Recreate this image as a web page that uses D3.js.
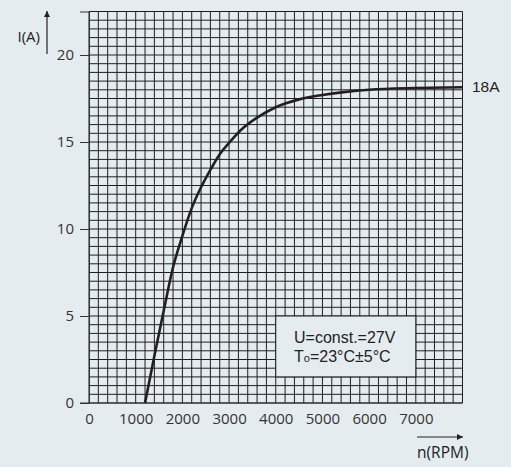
<!DOCTYPE html>
<html><head><meta charset="utf-8">
<script src="https://cdn.jsdelivr.net/npm/d3@7"></script>
<style>
html,body{margin:0;padding:0;background:#e5ecef;}
svg{display:block;}
</style></head>
<body>
<svg id="c" width="511" height="467"></svg>
<script>
const rpm = [1200, 1400, 1600, 1800, 2000, 2200, 2400, 2600, 2800, 3000, 3300, 3600, 4000, 4500, 5000, 5500, 6000, 7000, 8000];
const current = [0, 2.7, 5.3, 7.8, 9.6, 11.2, 12.4, 13.4, 14.3, 14.95, 15.8, 16.4, 17.0, 17.45, 17.7, 17.88, 18.0, 18.1, 18.15];
const xTicks = [0, 1000, 2000, 3000, 4000, 5000, 6000, 7000];
const yTicks = [0, 5, 10, 15, 20];
const noteLines = ["U=const.=27V", "=23°C±5°C"];
const endLabel = "18A";

const svg = d3.select("#c");
const bg = "#e5ecef";
const font = "'Open Sans', sans-serif";
const noteFont = "'Liberation Sans', Arial, sans-serif";
const x = d3.scaleLinear().domain([0, 8000]).range([89, 462.5]);
const y = d3.scaleLinear().domain([0, 22.5]).range([403, 11.5]);

const grid = svg.append("g").attr("stroke", "#1e1e1e").attr("stroke-width", 1);
grid.selectAll("line.v").data(d3.range(0, 8001, 200)).join("line")
  .attr("x1", d => x(d)).attr("x2", d => x(d)).attr("y1", y(0)).attr("y2", y(22.5));
grid.selectAll("line.h").data(d3.range(0, 22.51, 0.5)).join("line")
  .attr("y1", d => y(d)).attr("y2", d => y(d)).attr("x1", x(0)).attr("x2", x(8000));

// note box
svg.append("rect").attr("x", x(4000)).attr("y", y(5)).attr("width", x(7000) - x(4000)).attr("height", y(1.5) - y(5))
  .attr("fill", bg).attr("stroke", "#1e1e1e").attr("stroke-width", 1);
svg.append("text").attr("x", 294).attr("y", 343).attr("font-family", noteFont).attr("font-size", 16).attr("fill", "#222")
  .text(noteLines[0]);
const t2 = svg.append("text").attr("x", 294).attr("y", 362).attr("font-family", noteFont).attr("font-size", 16).attr("fill", "#222");
t2.append("tspan").text("T");
t2.append("tspan").attr("font-size", 11).text("o");
t2.append("tspan").attr("font-size", 16).text(noteLines[1]);

// y axis
const yAxis = d3.axisLeft(y).tickValues(yTicks).tickSize(9).tickPadding(6).tickFormat(d3.format("d"));
const ya = svg.append("g").attr("transform", `translate(${x(0)},0)`).call(yAxis);
ya.select(".domain").attr("stroke", "#333");
ya.selectAll(".tick line").attr("stroke", "#333");
ya.selectAll(".tick text").attr("font-family", font).attr("font-size", 15).attr("fill", "#333");

// x axis
const xa = d3.axisBottom(x).tickValues(xTicks).tickSize(0).tickPadding(10).tickFormat(d3.format("d"));
const xg = svg.append("g").attr("transform", `translate(0,${y(0)})`).call(xa);
xg.select(".domain").remove();
xg.selectAll(".tick text").attr("font-family", font).attr("font-size", 15).attr("fill", "#333");
svg.append("line").attr("x1", 80).attr("x2", x(8000)).attr("y1", y(0)).attr("y2", y(0)).attr("stroke", "#333").attr("stroke-width", 1.2);

// curve
const line = d3.line().x((d, i) => x(rpm[i])).y(d => y(d)).curve(d3.curveMonotoneX);
svg.append("path").datum(current).attr("d", line).attr("fill", "none").attr("stroke", "#231f20").attr("stroke-width", 2.6);

svg.append("text").attr("x", 472).attr("y", 92).attr("font-family", "'Liberation Sans', Arial, sans-serif")
  .attr("font-size", 15.5).attr("fill", "#222").text(endLabel);

// axis arrows
const defs = svg.append("defs");
defs.append("marker").attr("id", "ah").attr("viewBox", "0 0 10 10").attr("refX", 10).attr("refY", 5)
  .attr("markerWidth", 8).attr("markerHeight", 6).attr("markerUnits", "userSpaceOnUse").attr("orient", "auto")
  .append("path").attr("d", "M0,0 L10,5 L0,10 Z").attr("fill", "#222");
svg.append("line").attr("x1", 47).attr("x2", 47).attr("y1", 54).attr("y2", 11).attr("stroke", "#222").attr("stroke-width", 1.2).attr("marker-end", "url(#ah)");
svg.append("text").attr("x", 40).attr("y", 42).attr("text-anchor", "end").attr("font-family", font)
  .attr("font-size", 15).attr("fill", "#222").text("I(A)");
svg.append("line").attr("x1", 417).attr("x2", 463).attr("y1", 437).attr("y2", 437).attr("stroke", "#222").attr("stroke-width", 1.2).attr("marker-end", "url(#ah)");
svg.append("text").attr("x", 417).attr("y", 458).attr("font-family", font)
  .attr("font-size", 15.5).attr("fill", "#222").text("n(RPM)");
</script>
</body></html>
